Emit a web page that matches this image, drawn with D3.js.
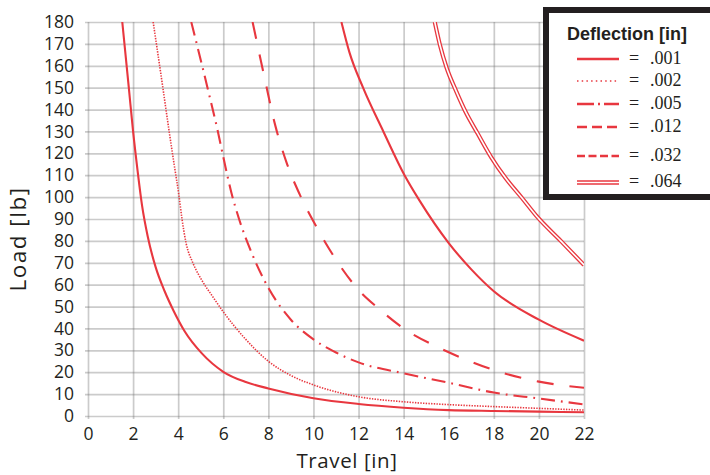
<!DOCTYPE html>
<html><head><meta charset="utf-8">
<script src="https://cdn.jsdelivr.net/npm/d3@7"></script>
<style>body{margin:0;background:#fff}svg{display:block}</style>
</head><body>
<script>
// ---------- data ----------
const xTickValues = [0,2,4,6,8,10,12,14,16,18,20,22];
const yTickValues = [0,10,20,30,40,50,60,70,80,90,100,110,120,130,140,150,160,170,180];
const seriesNames = [".001",".002",".005",".012",".032",".064"];

const travel001 = [1.52,1.81,2.0,2.2,2.4,2.65,3.0,3.4,3.8,4.3,5.05,6,7,8,10,12,14,16,18,20,22];
const load001   = [180,150,130,112,96,82,68,57,48,38.5,28.6,20.2,15.5,12.6,8.1,5.5,3.8,2.7,2.3,2.0,1.7];

const travel002 = [2.89,3.32,3.6,3.82,4.03,4.17,4.35,4.65,5.05,5.5,6,7,8,9,10,12,14,16,18,20,22];
const load002   = [180,150,130,115,101,90,79,70,62,55,47.6,35,25,18.5,14.2,8.8,6.5,5.2,4.3,3.5,2.7];

const travel005 = [4.58,5.3,5.76,6.05,6.36,6.7,7.2,8.03,9,10,11,12,14,16,18,20,22];
const load005   = [180,150,130,116,102,90,76,58,44,35,29,24.5,19.5,15.2,10.7,8,5.3];

const travel012 = [7.3,7.8,8.3,8.8,9.4,10.1,10.9,12,12.9,14,15.5,16.7,18,20,22];
const load012   = [180,156,133,116,101,87,73,57.6,49,40,31.5,26,21,15.7,12.9];

const travel032 = [11.24,11.6,12.2,13.1,14.04,14.7,16,17,18,20,22];
const load032   = [180,166,150,130,110,98.5,79,67,57,44,34.4];

const travel064 = [15.38,15.61,15.91,16.31,16.75,17.27,17.88,18.52,19.25,19.89,20.97,22];
const load064   = [180,169.5,159,148.9,138.9,129.3,118.3,108.7,99.6,91.4,80,69];

// ---------- layout ----------
const W = 710, H = 475;
const RED = "#e8373f", INK = "#231f20";
const x = d3.scaleLinear().domain([0, 22]).range([88, 584]);
const y = d3.scaleLinear().domain([0, 180]).range([416, 22]);

const svg = d3.select("body").append("svg").attr("width", W).attr("height", H);

// grid via axes
const gy = svg.append("g").attr("transform", `translate(${x(0) - 3},0)`)
  .call(d3.axisLeft(y).tickValues(yTickValues).tickSize(-(x(22) - x(0) + 3)).tickPadding(11));
const gx = svg.append("g").attr("transform", `translate(0,${y(0) + 3})`)
  .call(d3.axisBottom(x).tickValues(xTickValues).tickSize(-(y(0) - y(180) + 3)).tickPadding(9));
[gx, gy].forEach(g => {
  g.select(".domain").remove();
  g.selectAll(".tick line").attr("stroke", "#6e6e6e").attr("stroke-opacity", 0.36).attr("stroke-width", 1.7);
  g.selectAll(".tick text").attr("fill", INK).style("font-family", "'Open Sans', sans-serif").style("font-size", "17.5px");
});

// axis titles
svg.append("text").attr("x", 347).attr("y", 468).attr("text-anchor", "middle")
  .attr("fill", INK).style("font-family", "'Open Sans', sans-serif").style("font-size", "20.5px")
  .style("letter-spacing", "0.6px").text("Travel [in]");
svg.append("text").attr("transform", "translate(26,239) rotate(-90)").attr("text-anchor", "middle")
  .attr("fill", INK).style("font-family", "'Open Sans', sans-serif").style("font-size", "22.5px")
  .style("letter-spacing", "1.5px").text("Load [lb]");

// clip
svg.append("clipPath").attr("id", "plot").append("rect")
  .attr("x", x(0)).attr("y", y(180)).attr("width", x(22) - x(0)).attr("height", y(0) - y(180));

const series = [
  { name: seriesNames[0], t: travel001, l: load001, dash: null, lg: null },
  { name: seriesNames[1], t: travel002, l: load002, dash: "1.4,1.3", lg: "1.5,3.2", dotted: true },
  { name: seriesNames[2], t: travel005, l: load005, dash: "14,6,1.8,6", lg: "17,4,2,4" },
  { name: seriesNames[3], t: travel012, l: load012, dash: "17,16", lg: "10,5" },
  { name: seriesNames[4], t: travel032, l: load032, dash: null, lg: "8,3.5" },
  { name: seriesNames[5], t: travel064, l: load064, dash: null, lg: null, double: true }
];

const line = d3.line().x(d => x(d[0])).y(d => y(d[1])).curve(d3.curveMonotoneX);
const plot = svg.append("g").attr("clip-path", "url(#plot)");
series.forEach(s => {
  const pts = s.t.map((t, i) => [t, s.l[i]]);
  if (s.double) {
    plot.append("path").attr("d", line(pts)).attr("fill", "none").attr("stroke", RED).attr("stroke-width", 4.2);
    plot.append("path").attr("d", line(pts)).attr("fill", "none").attr("stroke", "#fff").attr("stroke-width", 1.6);
  } else {
    plot.append("path").attr("d", line(pts)).attr("fill", "none").attr("stroke", RED)
      .attr("stroke-width", s.dotted ? 1.6 : 2.1)
      .attr("stroke-dasharray", s.dash);
  }
});

// legend
const lg = svg.append("g");
lg.append("rect").attr("x", 546).attr("y", 10).attr("width", 200).attr("height", 187)
  .attr("fill", "#fff").attr("stroke", INK).attr("stroke-width", 6);
lg.append("text").attr("x", 627).attr("y", 40).attr("text-anchor", "middle").attr("fill", INK)
  .style("font-family", "'Liberation Sans', Arial, sans-serif").style("font-weight", "bold").style("font-size", "18px")
  .text("Deflection [in]");
const rowY = [59, 81, 104, 127, 156, 182.5];
series.forEach((s, i) => {
  const ry = rowY[i];
  if (s.double) {
    lg.append("line").attr("x1", 577).attr("x2", 619).attr("y1", ry).attr("y2", ry).attr("stroke", RED).attr("stroke-width", 4.4);
    lg.append("line").attr("x1", 577).attr("x2", 619).attr("y1", ry).attr("y2", ry).attr("stroke", "#fff").attr("stroke-width", 1.6);
  } else {
    lg.append("line").attr("x1", 577).attr("x2", 619).attr("y1", ry).attr("y2", ry).attr("stroke", RED)
      .attr("stroke-width", s.dotted ? 1.6 : 2.6).attr("stroke-dasharray", s.lg);
  }
  lg.append("text").attr("x", 634).attr("y", ry + 4.5).attr("text-anchor", "middle").attr("fill", INK)
    .style("font-family", "'Liberation Serif', serif").style("font-size", "18px").text("=");
  lg.append("text").attr("x", 650).attr("y", ry + 4.5).attr("fill", INK)
    .style("font-family", "'Liberation Serif', serif").style("font-size", "18px").text(s.name);
});
</script>
</body></html>
